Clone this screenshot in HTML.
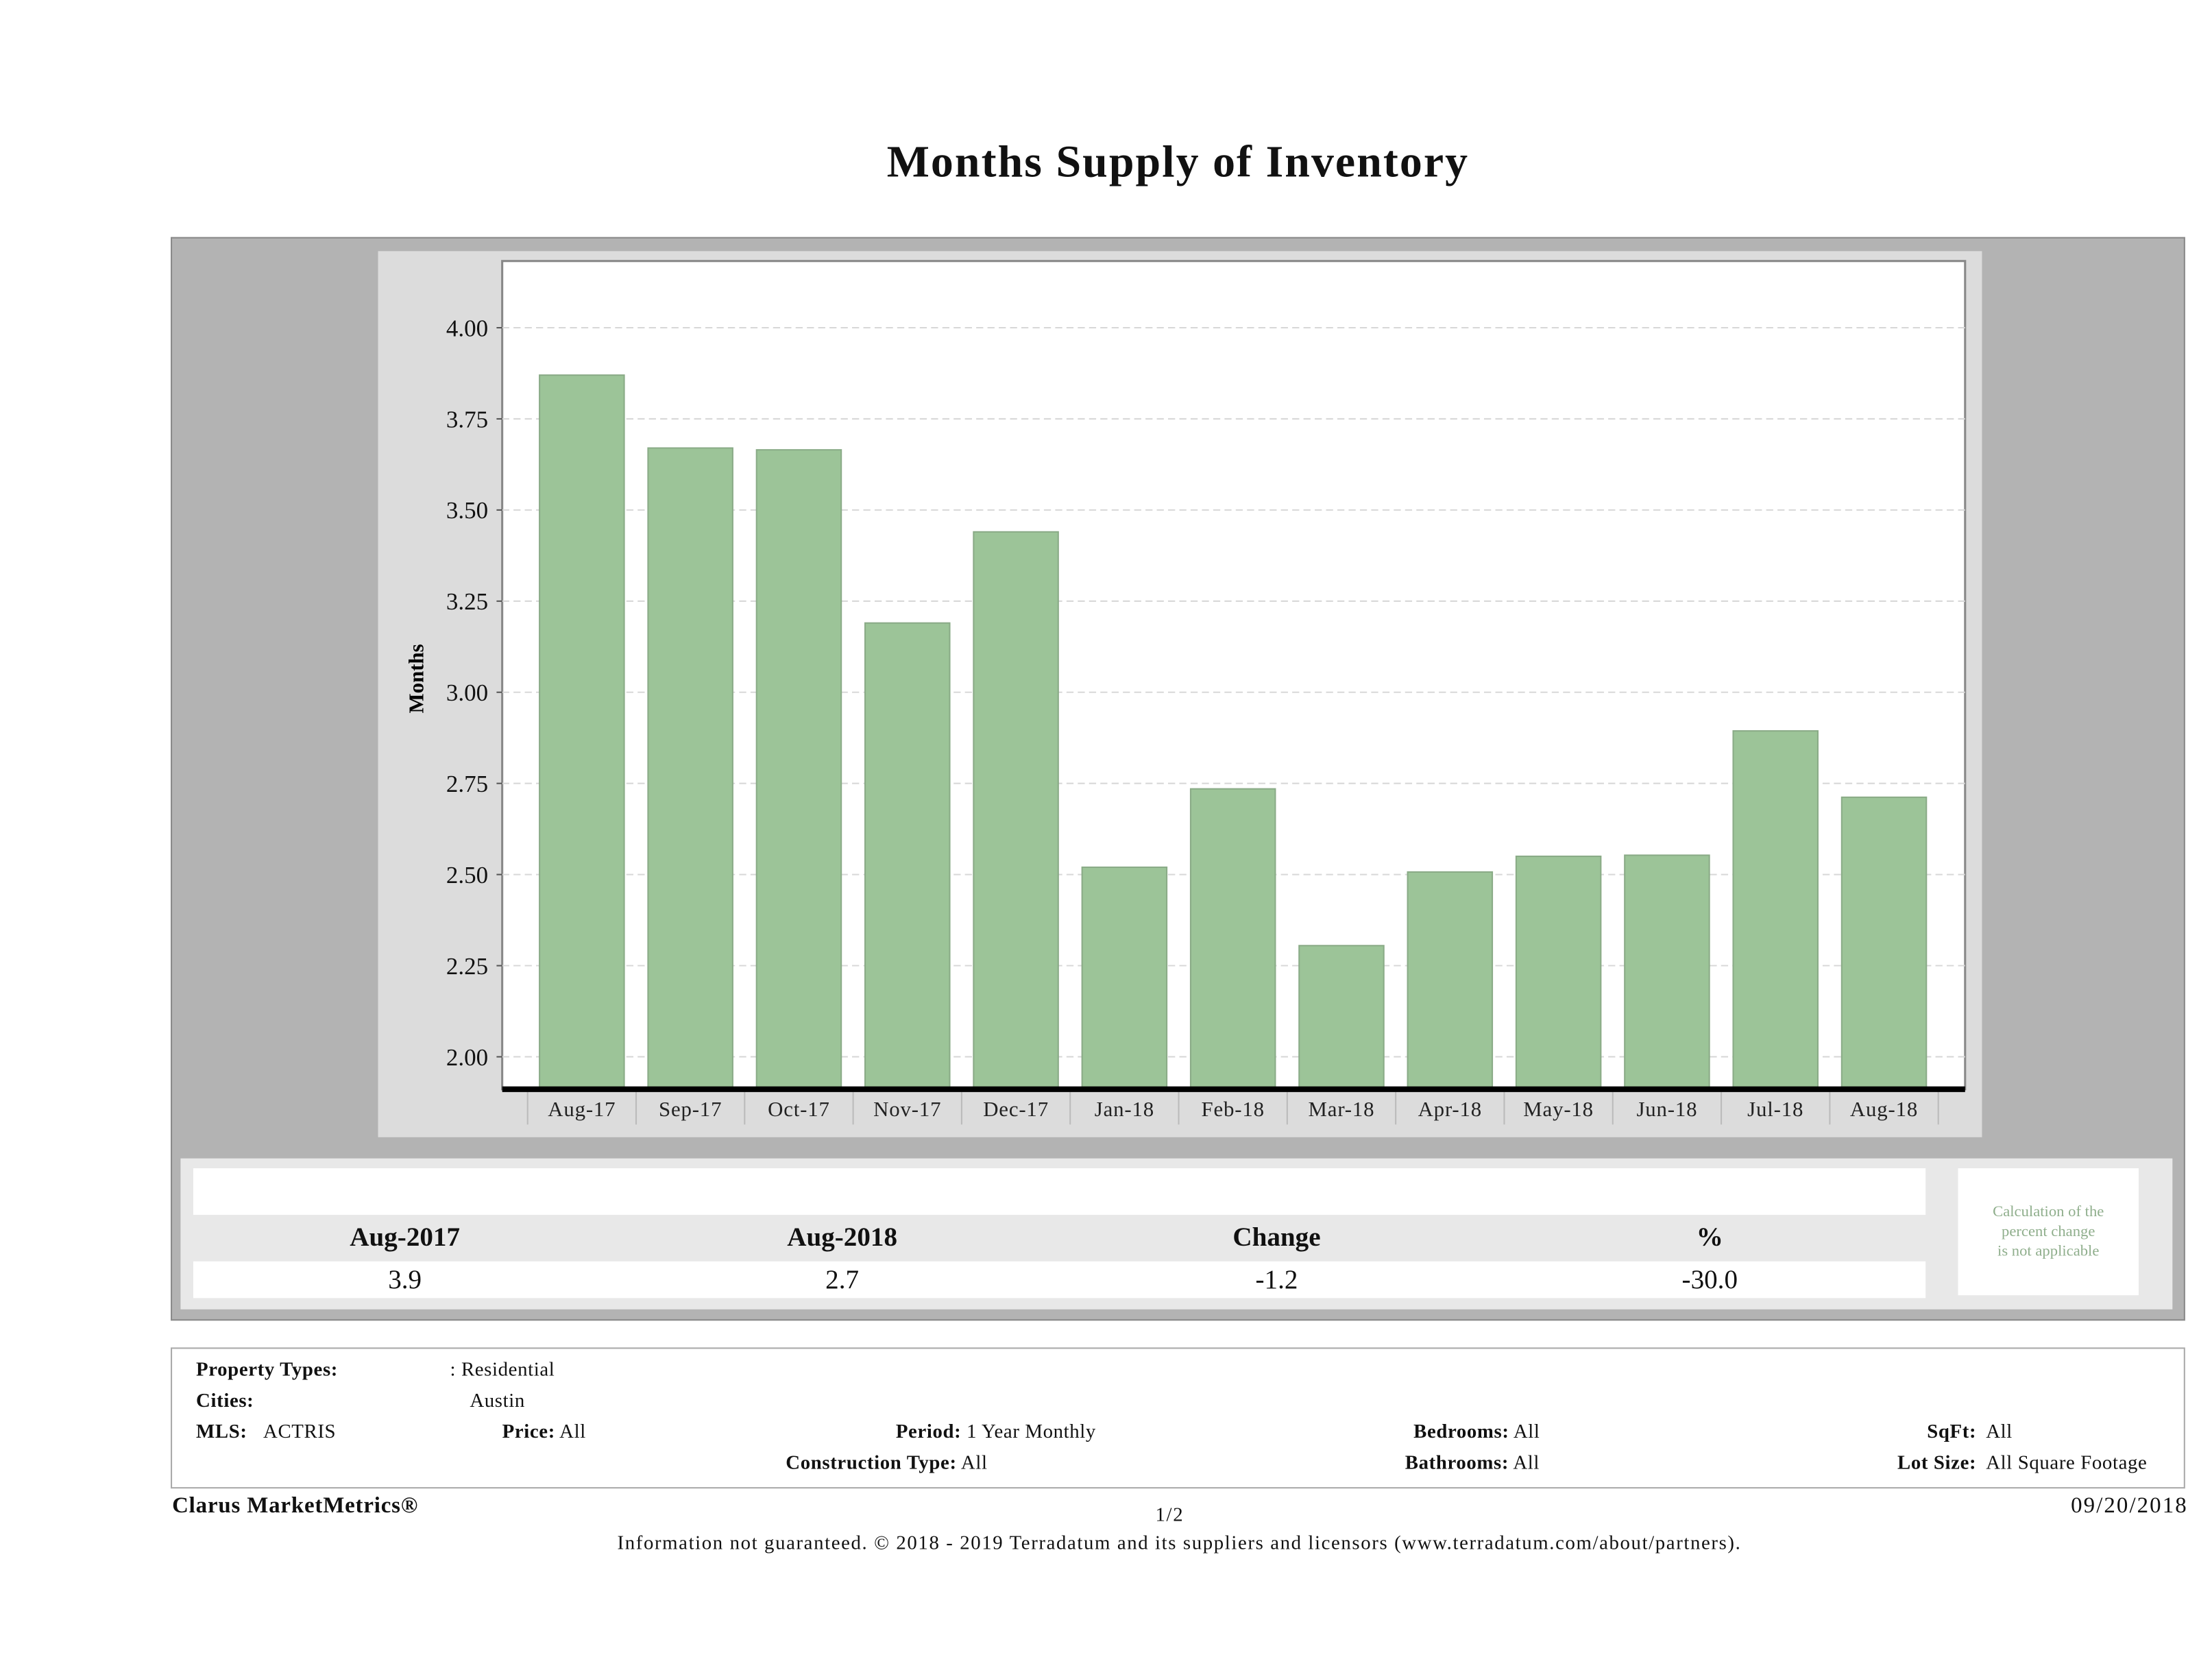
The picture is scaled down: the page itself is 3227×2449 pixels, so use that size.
<!DOCTYPE html>
<html><head><meta charset="utf-8"><style>
html,body{margin:0;padding:0;background:#fff;width:3227px;height:2448px;overflow:hidden}
#root{position:absolute;left:0;top:0;width:1568px;height:1190px;transform:scale(2.058);transform-origin:0 0;font-family:"Liberation Serif",serif;color:#111}
.abs{position:absolute}
</style></head><body>
<div id="root">
<div class="abs" style="left:0;width:1670px;top:96px;text-align:center;font-size:32px;font-weight:bold;letter-spacing:1px">Months Supply of Inventory</div>
<div class="abs" style="left:121px;top:168px;width:1426px;height:766px;background:#b3b3b3;border:1px solid #8a8a8a"></div>
<div class="abs" style="left:128px;top:821px;width:1412px;height:107px;background:#e8e8e8"></div>
<svg class="abs" id="chart" style="left:0;top:0" width="1568" height="1190"></svg>
<div class="abs" style="left:137px;top:828px;width:1228px;height:33px;background:#fff"></div>
<div class="abs" style="left:137px;top:894px;width:1228px;height:26px;background:#fff"></div>
<div class="abs" style="left:137px;top:867px;width:1228px;font-size:19px;font-weight:bold">
<span class="abs" style="left:60px;width:180px;text-align:center">Aug-2017</span>
<span class="abs" style="left:370px;width:180px;text-align:center">Aug-2018</span>
<span class="abs" style="left:678px;width:180px;text-align:center">Change</span>
<span class="abs" style="left:985px;width:180px;text-align:center">%</span>
</div>
<div class="abs" style="left:137px;top:897px;width:1228px;font-size:19px">
<span class="abs" style="left:60px;width:180px;text-align:center">3.9</span>
<span class="abs" style="left:370px;width:180px;text-align:center">2.7</span>
<span class="abs" style="left:678px;width:180px;text-align:center">-1.2</span>
<span class="abs" style="left:985px;width:180px;text-align:center">-30.0</span>
</div>
<div class="abs" style="left:1388px;top:828px;width:128px;height:90px;background:#fff;color:#8fae8c;font-size:11px;line-height:14px;text-align:center;box-sizing:border-box;padding-top:24px">Calculation of the<br>percent change<br>is not applicable</div>
<div class="abs" style="left:121px;top:955px;width:1426px;height:98px;background:#fff;border:1px solid #aaa;font-size:14px;letter-spacing:0.3px">
<span class="abs" style="left:17px;top:8px;font-weight:bold">Property Types:</span>
<span class="abs" style="left:197px;top:8px">: Residential</span>
<span class="abs" style="left:17px;top:30px;font-weight:bold">Cities:</span>
<span class="abs" style="left:211px;top:30px">Austin</span>
<span class="abs" style="left:17px;top:52px"><b>MLS:</b>&nbsp;&nbsp;&nbsp;ACTRIS</span>
<span class="abs" style="left:234px;top:52px"><b>Price:</b> All</span>
<span class="abs" style="left:513px;top:52px"><b>Period:</b> 1 Year Monthly</span>
<span class="abs" style="left:880px;top:52px"><b>Bedrooms:</b> All</span>
<span class="abs" style="left:1244px;top:52px"><b>SqFt:</b>&nbsp; All</span>
<span class="abs" style="left:435px;top:74px"><b>Construction Type:</b> All</span>
<span class="abs" style="left:874px;top:74px"><b>Bathrooms:</b> All</span>
<span class="abs" style="left:1223px;top:74px"><b>Lot Size:</b>&nbsp; All Square Footage</span>
</div>
<div class="abs" style="left:122px;top:1059px;font-size:16px;font-weight:bold;letter-spacing:0.4px">Clarus MarketMetrics®</div>
<div class="abs" style="left:819px;top:1067px;font-size:14px;letter-spacing:0.8px">1/2</div>
<div class="abs" style="left:1468px;top:1059px;font-size:16px;letter-spacing:1px">09/20/2018</div>
<div class="abs" style="left:0;width:1672px;top:1087px;text-align:center;font-size:14px;letter-spacing:0.78px">Information not guaranteed. © 2018 - 2019 Terradatum and its suppliers and licensors (www.terradatum.com/about/partners).</div>
</div>
<script>
const categories=["Aug-17","Sep-17","Oct-17","Nov-17","Dec-17","Jan-18","Feb-18","Mar-18","Apr-18","May-18","Jun-18","Jul-18","Aug-18"];
const values=[3.87,3.67,3.665,3.19,3.44,2.52,2.735,2.305,2.507,2.55,2.553,2.894,2.712];
const yTicks=[2.00,2.25,2.50,2.75,3.00,3.25,3.50,3.75,4.00];
const NS="http://www.w3.org/2000/svg";
const svg=document.getElementById('chart');
const yMin=1.911,yMax=4.183,pTop=185,pBot=772,pL=356,pR=1393;
function y(v){return pBot-(v-yMin)/(yMax-yMin)*(pBot-pTop);}
const x0=374,step=(1374-374)/categories.length;
function xc(i){return x0+step*(i+0.5);}
function mk(t,a,p){const e=document.createElementNS(NS,t);for(const k in a)e.setAttribute(k,a[k]);(p||svg).appendChild(e);return e;}
const bg=mk('rect',{x:268,y:178,width:1137,height:628,fill:'#dcdcdc'});


const plot=mk('rect',{x:pL,y:pTop,width:pR-pL,height:pBot-pTop,fill:'#fff',stroke:'#888','stroke-width':1.5});


yTicks.forEach(t=>{
 const g=mk('line',{x1:pL,x2:pR,y1:y(t),y2:y(t),stroke:'#d8d8d8','stroke-dasharray':'5,3'});
 
 
 mk('line',{x1:pL-4,x2:pL,y1:y(t),y2:y(t),stroke:'#555'});
 const l=mk('text',{x:pL-10,y:y(t)+6,'text-anchor':'end','font-size':17,'font-family':'Liberation Serif, serif',fill:'#111'});
 l.textContent=t.toFixed(2);
 
 
});
values.forEach((v,i)=>{
 const b=mk('rect',{x:xc(i)-30,y:y(v),width:60,height:pBot-y(v),fill:'#9cc498',stroke:'#8aab87','stroke-width':1});
 
 
});
categories.forEach((c,i)=>{
 const t=mk('text',{x:xc(i),y:791,'text-anchor':'middle','font-size':15,'font-family':'Liberation Serif, serif',fill:'#222','letter-spacing':0.4});
 t.textContent=c;
 
 
});
for(let i=0;i<=categories.length;i++){mk('line',{x1:x0+step*i,x2:x0+step*i,y1:774,y2:797,stroke:'#bbb'});}
const ax=mk('line',{x1:pL,x2:pR,y1:pBot,y2:pBot,stroke:'#000','stroke-width':4});


const yt=mk('text',{x:300,y:481,'text-anchor':'middle','font-size':15,'font-weight':'bold','font-family':'Liberation Serif, serif',transform:'rotate(-90 300 481)'});
yt.textContent='Months';


</script>
</body></html>
